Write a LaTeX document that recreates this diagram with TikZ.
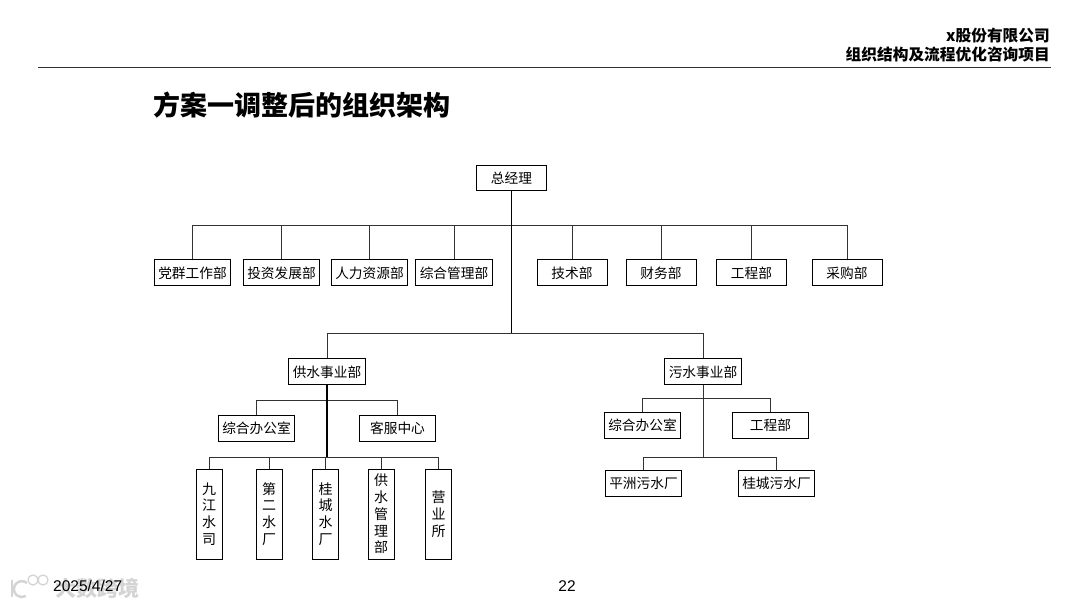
\documentclass[tikz,border=0pt]{standalone}
\usepackage{fontspec}
\setmainfont{Liberation Sans}
\newfontfamily\cjk{Noto Sans CJK SC}
\usetikzlibrary{positioning}
\definecolor{linegray}{RGB}{50,50,50}
\definecolor{markgray}{RGB}{212,212,212}
\tikzset{
    wide/.style={draw, line width=0.9pt, inner sep=0pt, text depth=0pt, minimum width=76.5pt, minimum height=26pt, font=\cjk\fontsize{13.7}{16}\selectfont},
    mid/.style={wide, minimum width=70pt},
    tall/.style={draw, line width=0.9pt, inner sep=0pt, minimum width=26pt, minimum height=90pt, align=center, font=\cjk\fontsize{14}{16.8}\selectfont},
    thin link/.style={draw=linegray, line width=1pt},
    trunk/.style={draw=black, line width=1.5pt}
}

\begin{document}
\begin{tikzpicture}[x=1pt, y=-1pt]
    \useasboundingbox (0,0) rectangle (1080,608);

    % Header
    \node[anchor=east, inner sep=0pt, font=\cjk\bfseries\fontsize{15.7}{18}\selectfont] (company) at (1050,36) {x股份有限公司};
    \node[anchor=east, inner sep=0pt, font=\cjk\bfseries\fontsize{15.7}{18}\selectfont] (project) at (1050,54) {组织结构及流程优化咨询项目};
    \coordinate (ruleleft) at (38,67);
    \coordinate (ruleright) at (1051,67);
    \draw[draw=linegray, line width=1pt] (ruleleft) -- (ruleright);
    \node[anchor=west, inner sep=0pt, font=\cjk\bfseries\fontsize{27}{30}\selectfont] (title) at (153,105) {方案一调整后的组织架构};

    % Top of the chart
    \node[mid, minimum height=25pt] (gm) at (511.5,177.5) {总经理};
    \node[wide] (party) at (192.5,272.5) {党群工作部};
    \node[wide] (invest) at (281.5,272.5) {投资发展部};
    \node[wide] (hr) at (369.5,272.5) {人力资源部};
    \node[wide] (admin) at (454,272.5) {综合管理部};
    \node[mid] (tech) at (572,272.5) {技术部};
    \node[mid] (finance) at (661,272.5) {财务部};
    \node[mid] (works) at (751.5,272.5) {工程部};
    \node[mid] (purchase) at (847,272.5) {采购部};

    % Business units
    \node[wide] (supply) at (327,371.5) {供水事业部};
    \node[wide] (sewage) at (703,371.5) {污水事业部};

    % Water supply branch
    \node[wide] (supplyoffice) at (256.5,428) {综合办公室};
    \node[wide] (service) at (397.5,428) {客服中心};
    \node[tall] (jiujiang) at (209,514) {\raisebox{-2pt}{九}\\\raisebox{-2pt}{江}\\\raisebox{-2pt}{水}\\\raisebox{-2pt}{司}};
    \node[tall] (second) at (269,514) {\raisebox{-2pt}{第}\\\raisebox{-2pt}{二}\\\raisebox{-2pt}{水}\\\raisebox{-2pt}{厂}};
    \node[tall] (guicheng) at (325.5,514) {\raisebox{-2pt}{桂}\\\raisebox{-2pt}{城}\\\raisebox{-2pt}{水}\\\raisebox{-2pt}{厂}};
    \node[tall] (manage) at (381,514) {供\\水\\管\\理\\部};
    \node[tall] (sales) at (438.5,514) {\raisebox{-2pt}{营}\\\raisebox{-2pt}{业}\\\raisebox{-2pt}{所}};

    % Sewage branch
    \node[wide] (sewageoffice) at (642.5,425) {综合办公室};
    \node[wide] (sewageworks) at (770.5,425) {工程部};
    \node[wide] (pingzhou) at (643.5,483) {平洲污水厂};
    \node[wide] (guichengplant) at (776.5,483) {桂城污水厂};

    % Junctions
    \coordinate (topbus) at (511.5,225);
    \coordinate (unitbus) at (511.5,333);
    \coordinate (trunkend) at (511.5,333);
    \coordinate (supplybus) at (327,400);
    \coordinate (supplylow) at (327,457);
    \coordinate (sewagebus) at (703,398);
    \coordinate (sewagelow) at (703,457);

    % Links
    \foreach \dept in {party, invest, hr, admin, tech, finance, works, purchase}
        \draw[thin link] (topbus) -| (\dept.north);
    \foreach \unit in {supply, sewage}
        \draw[thin link] (unitbus) -| (\unit.north);
    \foreach \dept in {supplyoffice, service}
        \draw[thin link] (supplybus) -| (\dept.north);
    \foreach \dept in {jiujiang, second, guicheng, manage, sales}
        \draw[thin link] (supplylow) -| (\dept.north);
    \foreach \dept in {sewageoffice, sewageworks}
        \draw[thin link] (sewagebus) -| (\dept.north);
    \foreach \dept in {pingzhou, guichengplant}
        \draw[thin link] (sewagelow) -| (\dept.north);
    \draw[trunk] (gm.south) -- (trunkend);
    \draw[trunk] (supply.south) -- (supplylow);
    \draw[thin link] (sewage.south) -- (sewagelow);

    % Footer
    \node[anchor=west, inner sep=0pt, text=markgray, font=\cjk\bfseries\fontsize{21}{24}\selectfont] (mark) at (55,588) {大数跨境};
    \draw[markgray, line width=2.5pt] (12,580) -- (12,597);
    \draw[markgray, line width=2.5pt] (27,583) arc[start angle=50, end angle=300, radius=8pt];
    \draw[markgray, line width=1.3pt] (33,580) circle[radius=5pt] (43,580) circle[radius=5pt];
    \node[anchor=west, inner sep=0pt, font=\fontsize{15.5}{18}\selectfont] (date) at (53,586) {2025/4/27};
    \node[inner sep=0pt, font=\fontsize{15.5}{18}\selectfont] (page) at (567,586) {22};
\end{tikzpicture}
\end{document}
